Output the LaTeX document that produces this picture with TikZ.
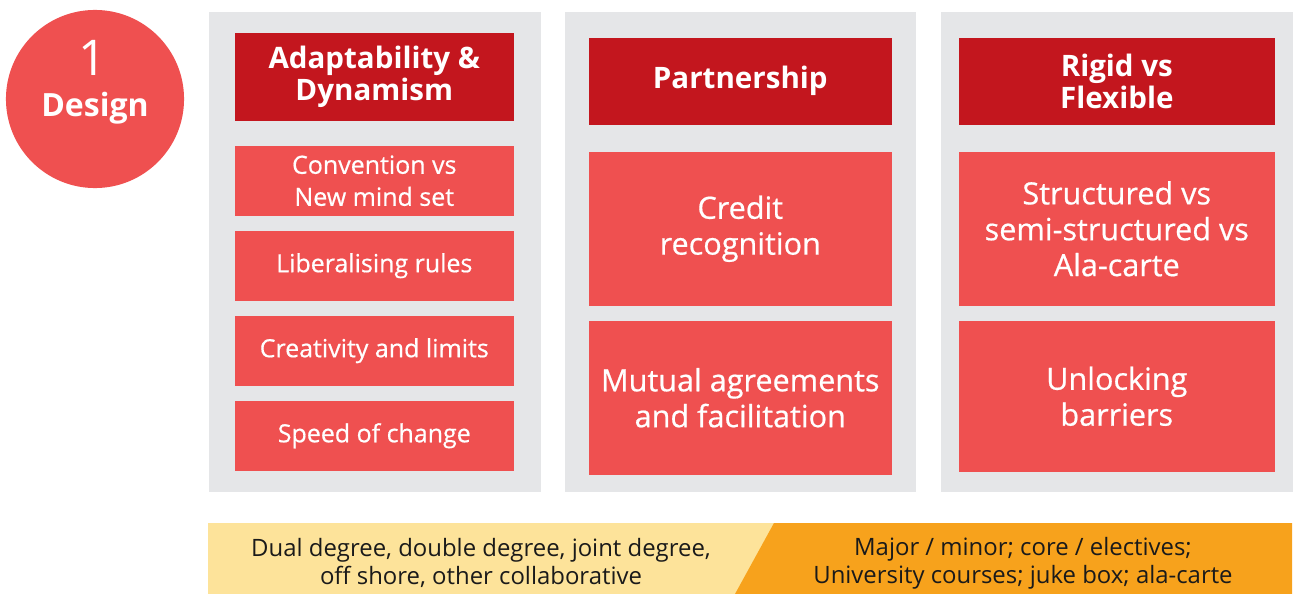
\documentclass[tikz,border=0pt]{standalone}
\usepackage{fontspec}
\setmainfont{Open Sans}
\newfontfamily\osreg{Open Sans}
\newfontfamily\ossemi[FakeBold=0.6]{Open Sans}
\newcommand{\osbold}{\osreg\bfseries}
\definecolor{lightred}{HTML}{EF5050}
\definecolor{darkred}{HTML}{C3161E}
\definecolor{panelgray}{HTML}{E5E6E8}
\definecolor{lightyellow}{HTML}{FDE39A}
\definecolor{orangeband}{HTML}{F7A21C}
\definecolor{bandtext}{HTML}{1A1A1A}
\tikzset{
  panel/.style={fill=panelgray, draw=none, anchor=north west, inner sep=0pt},
  hdbox/.style={fill=darkred, draw=none, anchor=north west, inner sep=0pt, text=white, align=center, font=\osbold\fontsize{8.4pt}{9.1pt}\selectfont},
  smallbox/.style={fill=lightred, draw=none, anchor=north west, inner sep=0pt, text=white, align=center, font=\ossemi\fontsize{7.1pt}{9.1pt}\selectfont},
  bigbox/.style={fill=lightred, draw=none, anchor=north west, inner sep=0pt, text=white, align=center, font=\ossemi\fontsize{8.7pt}{10.2pt}\selectfont},
  bandtxt/.style={text=bandtext, align=center, inner sep=0pt, font=\osreg\fontsize{6.8pt}{8.0pt}\selectfont},
}
\begin{document}
\begin{tikzpicture}[x=0.01cm, y=-0.01cm]
\useasboundingbox (0,0) rectangle (1293,594);
% circle
\node[circle, fill=lightred, minimum size=1.78cm, inner sep=0pt] (circ) at (95,99) {};
\node[text=white, inner sep=0pt, font=\osreg\fontsize{14pt}{14pt}\selectfont] (num) at (93,58) {1};
\node[text=white, inner sep=0pt, font=\osbold\fontsize{9.1pt}{9.1pt}\selectfont] (design) at (95,108) {Design};
% panels
\node[panel, minimum width=3.32cm, minimum height=4.80cm] (p1) at (208,11) {};
\node[panel, minimum width=3.51cm, minimum height=4.80cm] (p2) at (564,11) {};
\node[panel, minimum width=3.52cm, minimum height=4.80cm] (p3) at (940,11) {};
% panel 1
\node[hdbox, minimum width=2.79cm, minimum height=0.88cm] (h1) at (234,32) {Adaptability \&\\Dynamism};
\node[smallbox, minimum width=2.79cm, minimum height=0.70cm] (a1) at (234,145) {Convention vs\\New mind set};
\node[smallbox, minimum width=2.79cm, minimum height=0.70cm] (a2) at (234,230) {Liberalising rules};
\node[smallbox, minimum width=2.79cm, minimum height=0.70cm] (a3) at (234,315) {Creativity and limits};
\node[smallbox, minimum width=2.79cm, minimum height=0.70cm] (a4) at (234,400) {Speed of change};
% panel 2
\node[hdbox, minimum width=3.03cm, minimum height=0.87cm] (h2) at (588,37) {Partnership};
\node[bigbox, minimum width=3.03cm, minimum height=1.54cm] (b1) at (588,151) {Credit\\recognition};
\node[bigbox, minimum width=3.03cm, minimum height=1.54cm] (b2) at (588,320) {Mutual agreements\\and facilitation};
% panel 3
\node[hdbox, minimum width=3.16cm, minimum height=0.87cm] (h3) at (958,37) {Rigid vs\\Flexible};
\node[bigbox, minimum width=3.16cm, minimum height=1.54cm] (c1) at (958,151) {Structured vs\\semi-structured vs\\Ala-carte};
\node[bigbox, minimum width=3.16cm, minimum height=1.51cm] (c2) at (958,320) {Unlocking\\barriers};
% bottom band
\fill[lightyellow] (208,523) rectangle (1292,594);
\fill[orangeband] (774,523) -- (1292,523) -- (1292,594) -- (735,594) -- cycle;
\node[bandtxt] (t1) at (481,563) {Dual degree, double degree, joint degree,\\off shore, other collaborative};
\node[bandtxt] (t2) at (1023,563) {Major / minor; core / electives;\\University courses; juke box; ala-carte};
\end{tikzpicture}
\end{document}
